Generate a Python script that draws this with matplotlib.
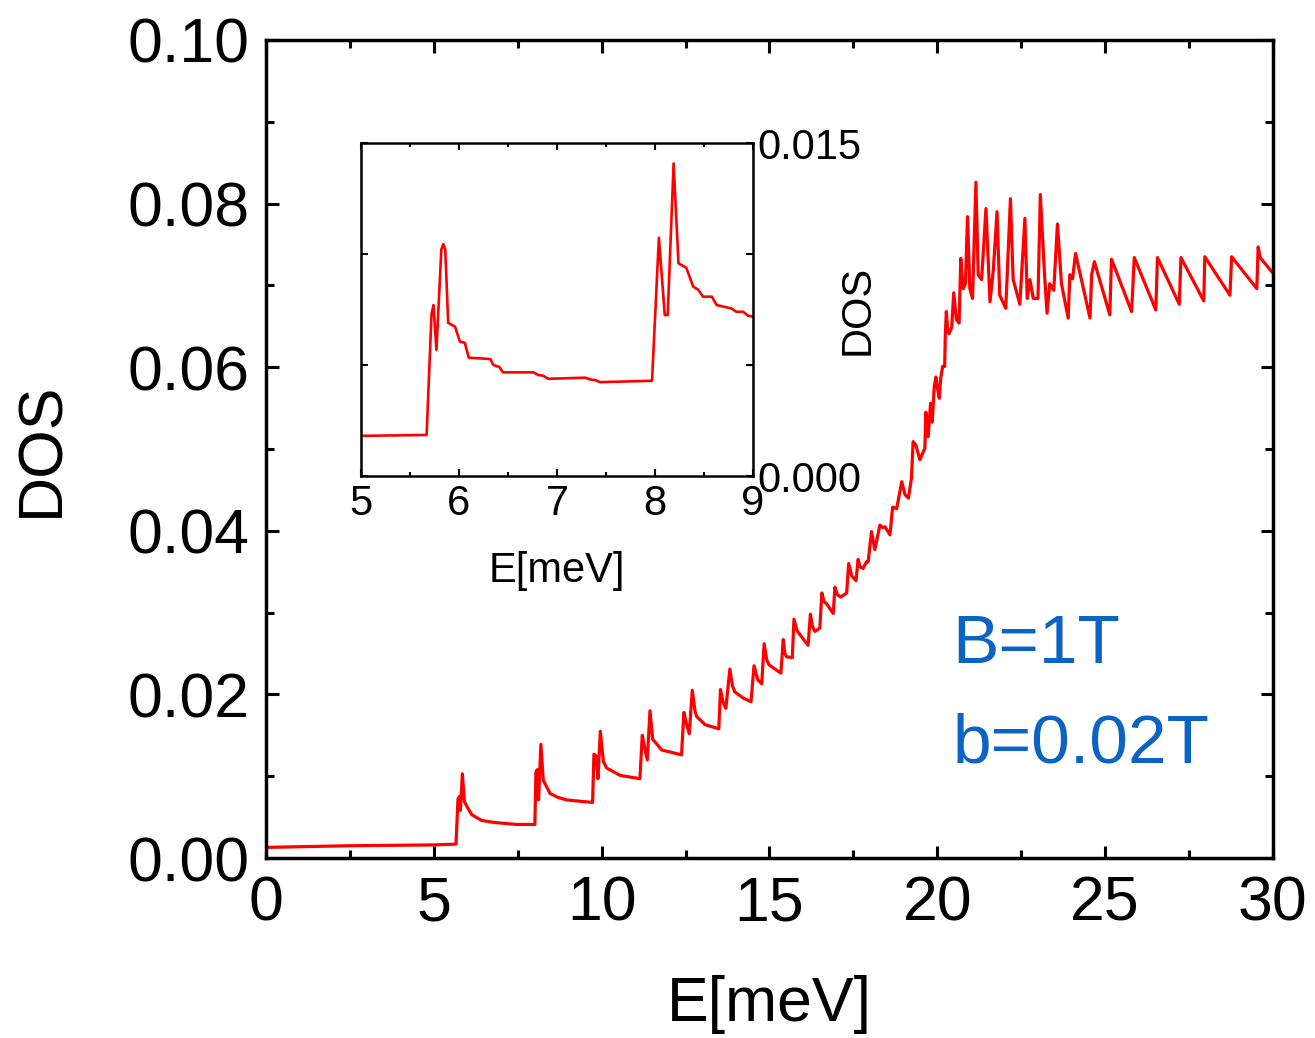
import matplotlib
matplotlib.use('Agg')
import matplotlib.pyplot as plt
from matplotlib.ticker import MultipleLocator, FixedLocator, FixedFormatter

plt.rcParams['font.family'] = ['Liberation Sans', 'DejaVu Sans']

# main curve, DOS vs E[meV]
E_main = [0.0, 2.5, 5.0, 5.66, 5.72, 5.76, 5.79, 5.85, 5.91, 6.0, 6.13, 6.25, 6.42, 6.7, 6.92,
          7.2, 7.47, 8.01, 8.04, 8.08, 8.12, 8.19, 8.26, 8.35, 8.46, 8.7, 8.96, 9.45, 9.73,
          9.77, 9.83, 9.89, 9.96, 10.05, 10.15, 10.55, 11.14, 11.21, 11.28, 11.36, 11.44,
          11.52, 11.59, 11.79, 12.1, 12.38, 12.45, 12.52, 12.61, 12.70, 12.78, 12.83, 13.08,
          13.49, 13.54, 13.62, 13.70, 13.82, 13.9, 13.97, 14.20, 14.45, 14.54, 14.65, 14.77,
          14.84, 14.92, 14.99, 15.34, 15.41, 15.46, 15.51, 15.68, 15.73, 15.82, 15.91, 16.15,
          16.22, 16.28, 16.35, 16.50, 16.56, 16.63, 16.70, 16.90, 16.95, 17.02, 17.12, 17.30,
          17.36, 17.45, 17.58, 17.64, 17.70, 17.79, 17.89, 17.94, 18.04, 18.14, 18.29, 18.37,
          18.44, 18.59, 18.67, 18.79, 18.94, 19.04, 19.14, 19.23, 19.28, 19.36, 19.48, 19.63,
          19.66, 19.73, 19.80, 19.85, 19.91, 19.96, 20.00, 20.06, 20.10, 20.16, 20.22, 20.24,
          20.27, 20.31, 20.35, 20.43, 20.49, 20.57, 20.65, 20.70, 20.77, 20.84, 20.90, 20.97,
          21.05, 21.15, 21.22, 21.32, 21.45, 21.57, 21.67, 21.78, 21.86, 22.04, 22.18, 22.26,
          22.46, 22.61, 22.68, 22.76, 22.86, 23.00, 23.07, 23.20, 23.27, 23.35, 23.47, 23.58,
          23.70, 23.90, 23.95, 24.03, 24.12, 24.55, 24.60, 24.68, 25.14, 25.19, 25.79, 25.87,
          26.51, 26.56, 27.21, 27.26, 27.94, 27.97, 28.72, 28.77, 29.52, 29.56, 29.62, 30.0]
dos_main = [0.0013, 0.0015, 0.0016, 0.0017, 0.0072, 0.0075, 0.0058, 0.0103, 0.0069, 0.0062,
            0.0053, 0.0050, 0.0046, 0.0044, 0.0043, 0.0042, 0.0041, 0.0041, 0.0105, 0.0108,
            0.0071, 0.0139, 0.0095, 0.0088, 0.0079, 0.0074, 0.0071, 0.0069, 0.0068, 0.0127,
            0.0125, 0.0097, 0.0155, 0.0118, 0.0110, 0.0101, 0.0097, 0.0150, 0.0135, 0.0120,
            0.0180, 0.0145, 0.0142, 0.0132, 0.0129, 0.0126, 0.0178, 0.0165, 0.0152, 0.0205,
            0.0180, 0.0173, 0.0163, 0.0158, 0.0206, 0.0190, 0.0183, 0.0231, 0.0210, 0.0203,
            0.0196, 0.0191, 0.0235, 0.0218, 0.0213, 0.0262, 0.0242, 0.0236, 0.0226, 0.0267,
            0.0250, 0.0246, 0.0245, 0.0292, 0.0278, 0.0273, 0.0260, 0.0298, 0.0283, 0.0277,
            0.0281, 0.0324, 0.0313, 0.0311, 0.0299, 0.0331, 0.0322, 0.0319, 0.0324, 0.0360,
            0.0345, 0.0339, 0.0365, 0.0356, 0.0354, 0.0362, 0.0362, 0.0399, 0.0377, 0.0407,
            0.0404, 0.0405, 0.0395, 0.0429, 0.0427, 0.0460, 0.0444, 0.0440, 0.0464, 0.0509,
            0.0505, 0.0487, 0.0501, 0.0545, 0.0515, 0.0556, 0.0533, 0.0576, 0.0588, 0.0576,
            0.0562, 0.0586, 0.0601, 0.0601, 0.0641, 0.0668, 0.0645, 0.0641, 0.0649, 0.0691,
            0.0658, 0.0654, 0.0733, 0.0696, 0.0702, 0.0784, 0.0696, 0.0684, 0.0826, 0.0713,
            0.0707, 0.0794, 0.0680, 0.0719, 0.0790, 0.0688, 0.0672, 0.0806, 0.0707, 0.0677,
            0.0782, 0.0684, 0.0707, 0.0684, 0.0684, 0.0811, 0.0710, 0.0666, 0.0702, 0.0694,
            0.0775, 0.0702, 0.0660, 0.0713, 0.0708, 0.0739, 0.0660, 0.0713, 0.0729, 0.0664,
            0.0732, 0.0668, 0.0734, 0.0670, 0.0734, 0.0677, 0.0734, 0.0681, 0.0735, 0.0688,
            0.0735, 0.0696, 0.0747, 0.0734, 0.0715]

# inset, zoom on 5..9 meV
E_inset = [5.0, 5.67, 5.72, 5.74, 5.77, 5.82, 5.84, 5.86, 5.89, 5.96, 6.01, 6.06, 6.10, 6.32,
           6.35, 6.41, 6.45, 6.76, 6.81, 6.86, 6.91, 7.29, 7.34, 7.39, 7.44, 7.97, 8.04, 8.10,
           8.13, 8.19, 8.24, 8.32, 8.39, 8.44, 8.49, 8.58, 8.63, 8.78, 8.83, 8.90, 8.95, 9.0]
dos_inset = [0.00181, 0.00185, 0.0073, 0.0077, 0.00568, 0.0102, 0.01045, 0.0102, 0.0069,
             0.00673, 0.00605, 0.0060, 0.00533, 0.00527, 0.0050, 0.00492, 0.00467, 0.00467,
             0.00455, 0.00452, 0.00438, 0.00443, 0.00435, 0.00432, 0.00423, 0.00429, 0.01073,
             0.00725, 0.00725, 0.01408, 0.00958, 0.00938, 0.00853, 0.0084, 0.00808, 0.00808,
             0.0077, 0.00755, 0.0074, 0.0074, 0.00722, 0.00718]

fig = plt.figure(figsize=(13.15, 10.38), dpi=100)

ax = fig.add_axes([0.2023, 0.1734, 0.7657, 0.7881])
ax.plot(E_main, dos_main, color='#ff0000', lw=2.3, solid_joinstyle='round')
ax.set_xlim(0, 30)
ax.set_ylim(0, 0.10)
ax.xaxis.set_major_locator(MultipleLocator(5))
ax.xaxis.set_minor_locator(MultipleLocator(2.5))
ax.yaxis.set_major_locator(MultipleLocator(0.02))
ax.yaxis.set_minor_locator(MultipleLocator(0.01))
ax.yaxis.set_major_formatter(matplotlib.ticker.FormatStrFormatter('%.2f'))
ax.tick_params(which='both', direction='in', top=True, right=True, width=2.2, labelsize=45)
ax.tick_params(which='major', length=9)
ax.tick_params(which='minor', length=5.5)
ax.tick_params(axis='y', pad=12)
ax.tick_params(axis='x', pad=12)
for s in ax.spines.values():
    s.set_linewidth(2.5)
ax.set_xlabel('E[meV]', fontsize=45, labelpad=30)
ax.set_ylabel('DOS', fontsize=45, labelpad=40)

ax.text(0.682, 0.238, 'B=1T', transform=ax.transAxes, color='#0b63c4', fontsize=50)
ax.text(0.682, 0.117, 'b=0.02T', transform=ax.transAxes, color='#0b63c4', fontsize=50)

ins = fig.add_axes([0.2745, 0.5414, 0.2981, 0.3208])
ins.plot(E_inset, dos_inset, color='#ff0000', lw=1.9, solid_joinstyle='round')
ins.set_xlim(5, 9)
ins.set_ylim(0, 0.015)
ins.xaxis.set_major_locator(MultipleLocator(1))
ins.xaxis.set_minor_locator(MultipleLocator(0.5))
ins.yaxis.set_major_locator(FixedLocator([0, 0.005, 0.010, 0.015]))
ins.yaxis.set_major_formatter(FixedFormatter(['0.000', '', '', '0.015']))
ins.yaxis.tick_right()
ins.yaxis.set_label_position('right')
ins.tick_params(which='both', direction='in', top=True, left=True, right=True, width=1.5, labelsize=30)
ins.tick_params(which='major', length=5)
ins.tick_params(which='minor', length=3)
ins.tick_params(axis='x', pad=6)
ins.tick_params(axis='y', pad=3)
for s in ins.spines.values():
    s.set_linewidth(1.8)
ins.set_xlabel('E[meV]', fontsize=30, labelpad=19)
ins.set_ylabel('DOS', fontsize=30, labelpad=-17)

fig.savefig('out.png', dpi=100)
